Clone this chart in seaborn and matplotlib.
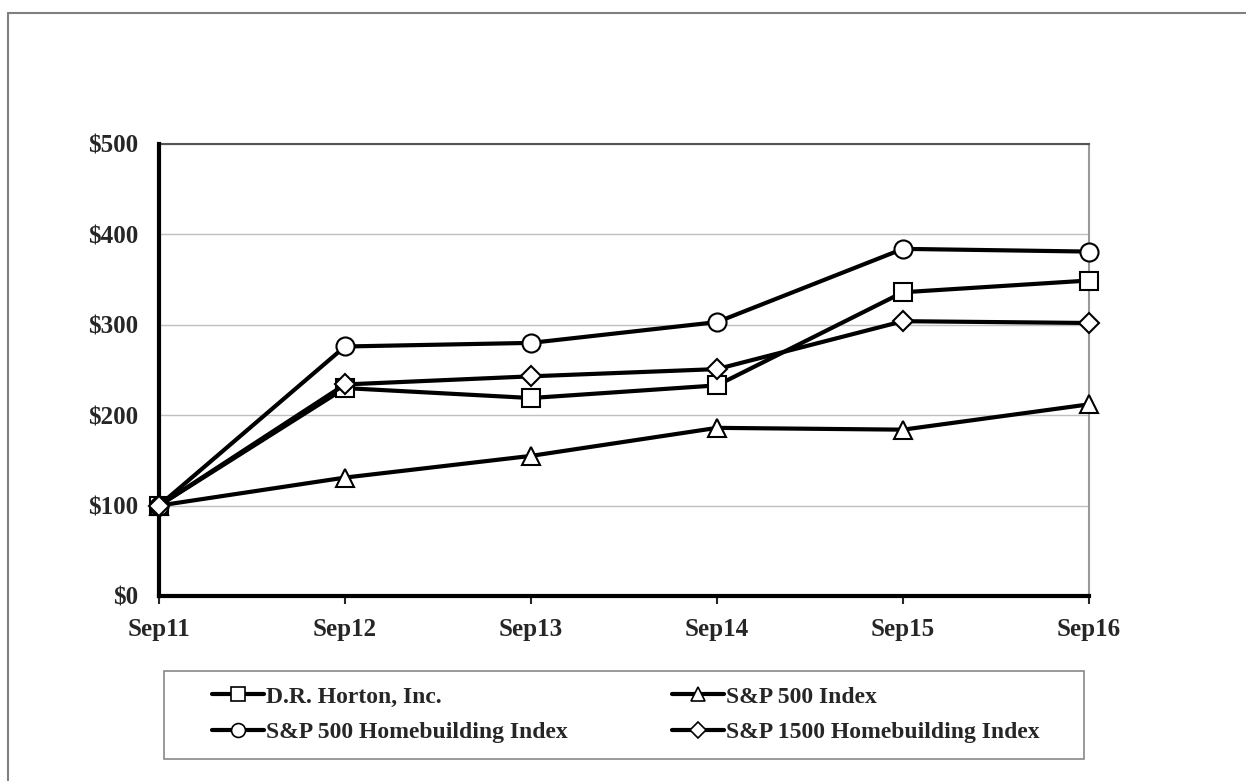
import numpy as np
import pandas as pd
import matplotlib
matplotlib.use("Agg")
import matplotlib.pyplot as plt
from matplotlib.lines import Line2D
from matplotlib.patches import Rectangle
import seaborn as sns

# ------ Dados ------ #
years = ["Sep11", "Sep12", "Sep13", "Sep14", "Sep15", "Sep16"]
horton = [100, 230, 219, 233, 336, 349]
sp500 = [100, 131, 155, 186, 184, 212]
sp500_hb = [100, 276, 280, 303, 384, 381]
sp1500_hb = [100, 234, 243, 251, 304, 302]

series_names = ["D.R. Horton, Inc.", "S&P 500 Index",
                "S&P 500 Homebuilding Index", "S&P 1500 Homebuilding Index"]
series_values = [horton, sp500, sp500_hb, sp1500_hb]
marker_map = {"D.R. Horton, Inc.": "s", "S&P 500 Index": "^",
              "S&P 500 Homebuilding Index": "o", "S&P 1500 Homebuilding Index": "D"}
size_map = {"s": 13, "^": 13, "o": 13, "D": 10}

y_ticks = [0, 100, 200, 300, 400, 500]
y_labels = ["$0", "$100", "$200", "$300", "$400", "$500"]

rows = []
for name, vals in zip(series_names, series_values):
    for i, v in enumerate(vals):
        rows.append({"serie": name, "pos": i, "valor": v})
df = pd.DataFrame(rows)

W, H = 1246, 781

# ------ Figura ------ #
sns.set_style("white")
plt.rcParams['font.family'] = ['Liberation Serif', 'DejaVu Serif']
plt.rcParams['font.weight'] = 'bold'

fig = plt.figure(figsize=(W / 100, H / 100), dpi=100)
ax = fig.add_axes([159 / W, 1 - 596 / H, (1089 - 159) / W, (596 - 144) / H])

for name in series_names:
    sub = df[df["serie"] == name]
    m = marker_map[name]
    sns.lineplot(data=sub, x="pos", y="valor", ax=ax, color="black", linewidth=3.0,
                 marker=m, markersize=size_map[m], markerfacecolor="white",
                 markeredgecolor="black", markeredgewidth=1.5, legend=False,
                 zorder=5, clip_on=False)

ax.set_xlim(0, 5)
ax.set_ylim(0, 500)
ax.set_xticks(range(len(years)))
ax.set_xticklabels(years, fontsize=18, fontweight="bold")
ax.set_yticks(y_ticks)
ax.set_yticklabels(y_labels, fontsize=18, fontweight="bold")
ax.set_xlabel("")
ax.set_ylabel("")
ax.tick_params(axis="x", direction="out", length=6, width=1.5, pad=10, bottom=True)
ax.tick_params(axis="y", length=0, pad=15)
ax.yaxis.grid(True, color="#c0c0c0", linewidth=1.0)
ax.xaxis.grid(False)
ax.set_axisbelow(True)

for lado in ["left", "bottom"]:
    ax.spines[lado].set_color("black")
    ax.spines[lado].set_linewidth(3)
    ax.spines[lado].set_zorder(4)
ax.spines["top"].set_color("#555555")
ax.spines["top"].set_linewidth(1.5)
ax.spines["right"].set_color("#999999")
ax.spines["right"].set_linewidth(1.5)

# Legenda (duas colunas separadas, moldura desenhada à parte)
handles = {}
for name in series_names:
    m = marker_map[name]
    handles[name] = Line2D([0], [0], color="black", linewidth=3, marker=m,
                           markersize=10 if m != "D" else 8, markerfacecolor="white",
                           markeredgecolor="black", markeredgewidth=1.2)

colunas = [(212, [series_names[0], series_names[2]]),
           (672, [series_names[1], series_names[3]])]
for x0, nomes in colunas:
    leg = fig.legend([handles[n] for n in nomes], nomes, loc="upper left",
                     bbox_to_anchor=(x0 / W, 1 - 686 / H),
                     prop={"size": 17, "weight": "bold"}, frameon=False,
                     handlelength=2.2, handletextpad=0.1, borderpad=0,
                     labelspacing=0.6, borderaxespad=0)

fig.add_artist(Rectangle((164 / W, 1 - 759 / H), (1084 - 164) / W, (759 - 671) / H,
                         transform=fig.transFigure, fill=False,
                         edgecolor="#888888", linewidth=1.2))

# Moldura externa (topo e esquerda)
fig.add_artist(Line2D([8 / W, 8 / W], [0, 1 - 13 / H], color="#808080", linewidth=1.5))
fig.add_artist(Line2D([8 / W, 1], [1 - 13 / H, 1 - 13 / H], color="#808080", linewidth=1.5))

fig.savefig("out.png", dpi=100)
